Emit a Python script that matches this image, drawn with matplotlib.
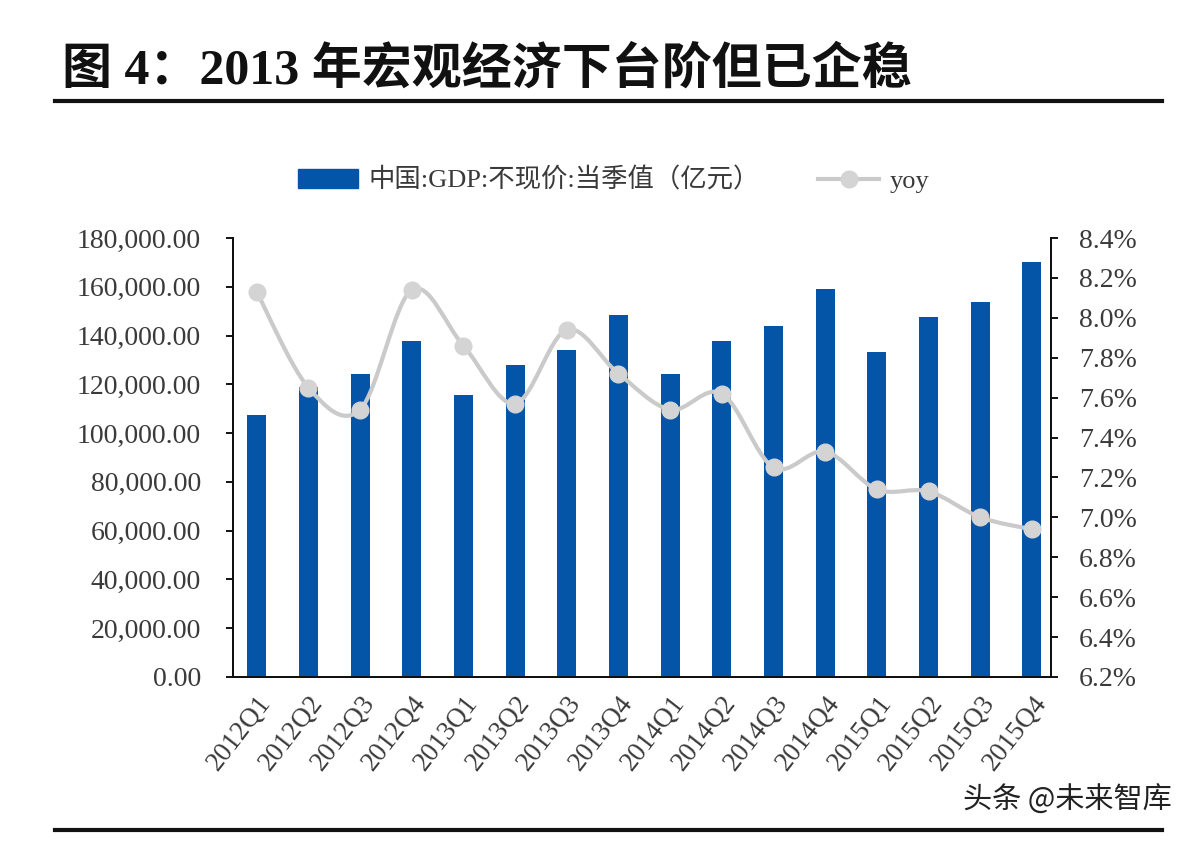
import numpy as np
import matplotlib
matplotlib.use("Agg")
import matplotlib.pyplot as plt
from matplotlib.path import Path
from matplotlib.patches import PathPatch, Patch
from matplotlib.lines import Line2D
from matplotlib.ticker import FuncFormatter, MultipleLocator

# ─── data ────────────────────────────────────────────────────────────────────
quarters = ["2012Q1", "2012Q2", "2012Q3", "2012Q4",
            "2013Q1", "2013Q2", "2013Q3", "2013Q4",
            "2014Q1", "2014Q2", "2014Q3", "2014Q4",
            "2015Q1", "2015Q2", "2015Q3", "2015Q4"]
gdp = [107400, 119000, 124200, 137800,
       115600, 127900, 134100, 148400,
       124200, 137800, 143900, 159100,
       133300, 147600, 153800, 170200]
yoy = [8.13, 7.65, 7.54, 8.14,
       7.86, 7.57, 7.94, 7.72,
       7.54, 7.62, 7.25, 7.33,
       7.14, 7.13, 7.00, 6.94]

title = "图 4：2013 年宏观经济下台阶但已企稳"
bar_label = "中国:GDP:不现价:当季值（亿元）"
line_label = "yoy"
watermark = "头条 @未来智库"

BLUE = "#0455A8"
GREY = "#CACACA"
TXT = "#3a3a3a"
SERIF = ["Liberation Serif", "Noto Sans CJK SC", "DejaVu Sans"]

plt.rcParams["font.family"] = SERIF

fig = plt.figure(figsize=(11.96, 8.42), dpi=100)
ax = fig.add_axes([0.1948, 0.196, 0.684, 0.5213])
ax2 = ax.twinx()

x = np.arange(len(quarters))
ax.bar(x, gdp, width=0.37, color=BLUE, zorder=2)

ax.set_xlim(-0.46, 15.37)
ax.set_ylim(0, 180000)
ax.yaxis.set_major_locator(MultipleLocator(20000))
ax.yaxis.set_major_formatter(FuncFormatter(lambda v, p: f"{v:,.2f}"))
ax.set_xticks(x)
ax.set_xticklabels(quarters, rotation=52, ha="right", rotation_mode="anchor",
                   fontsize=19.5, color=TXT)
ax.tick_params(axis="x", length=0, pad=10)
ax.tick_params(axis="y", labelsize=20, labelcolor=TXT, length=5, width=1.3,
               direction="out", pad=18)

ax2.set_ylim(6.2, 8.4)
ax2.yaxis.set_major_locator(MultipleLocator(0.2))
ax2.yaxis.set_major_formatter(FuncFormatter(lambda v, p: f"{v:.1f}%"))
ax2.tick_params(axis="y", labelsize=20, labelcolor=TXT, length=5, width=1.3,
                direction="out", pad=15)

for a in (ax, ax2):
    a.spines["top"].set_visible(False)
    for s in ("left", "right", "bottom"):
        a.spines[s].set_linewidth(1.4)
        a.spines[s].set_color("#111111")

# smoothed yoy line (Catmull-Rom through the points, drawn as a Bezier path)
pts = np.column_stack([x, yoy]).astype(float)
verts = [pts[0]]
codes = [Path.MOVETO]
for i in range(len(pts) - 1):
    p0 = pts[i - 1] if i > 0 else pts[i]
    p1, p2 = pts[i], pts[i + 1]
    p3 = pts[i + 2] if i + 2 < len(pts) else pts[i + 1]
    c1 = p1 + (p2 - p0) / 6.0
    c2 = p2 - (p3 - p1) / 6.0
    verts += [c1, c2, p2]
    codes += [Path.CURVE4] * 3
ax2.add_patch(PathPatch(Path(verts, codes), fill=False, edgecolor=GREY,
                        lw=3, capstyle="round", zorder=3))
ax2.plot(x, yoy, "o", ms=12, color="#D4D4D4", mec="#D4D4D4", zorder=4)

# legend
handles = [Patch(facecolor=BLUE, edgecolor=BLUE),
           Line2D([], [], color=GREY, lw=3, marker="o", ms=12,
                  markerfacecolor="#D4D4D4", markeredgecolor="#D4D4D4")]
fig.legend(handles, [bar_label, line_label], loc="center",
           bbox_to_anchor=(0.513, 0.786), ncol=2, frameon=False,
           fontsize=19, handlelength=2.3, handleheight=0.7,
           columnspacing=2.2, handletextpad=0.4, labelcolor=TXT)

# title, rules, watermark
fig.text(0.052, 0.916, title, fontsize=36, fontweight="bold", va="center",
         ha="left", family=SERIF, color="#111111")
fig.add_artist(Line2D([0.046, 0.9716], [0.880, 0.880], color="#111111", lw=3))
fig.add_artist(Line2D([0.046, 0.9716], [0.0143, 0.0143], color="#111111", lw=3))
fig.text(0.98, 0.049, watermark, fontsize=21, ha="right", va="center",
         family=["Noto Sans CJK SC", "DejaVu Sans"], color="#222222")

fig.savefig("out.png", dpi=100, facecolor="white")
